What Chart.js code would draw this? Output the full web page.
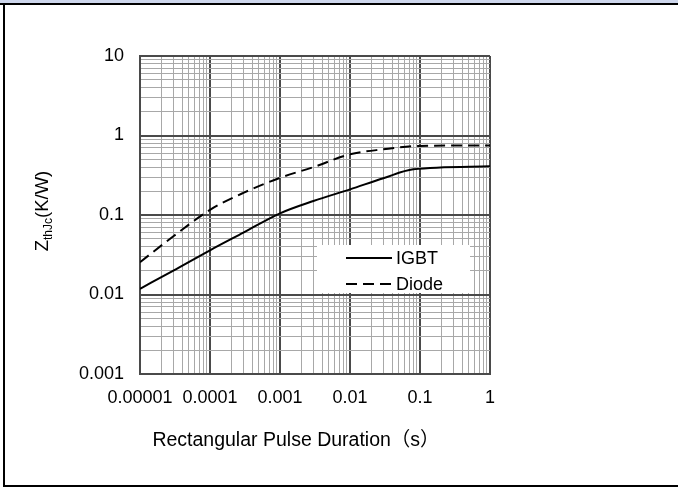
<!DOCTYPE html>
<html>
<head>
<meta charset="utf-8">
<script src="https://cdn.jsdelivr.net/npm/chart.js@4/dist/chart.umd.min.js"></script>
<style>
    html, body { margin: 0; padding: 0; background: #fff; }
    #wrap { position: relative; width: 678px; height: 488px; overflow: hidden; }
    #plot { position: absolute; left: 0; top: 0; }
    .edge { position: absolute; background: #000; }
</style>
</head>
<body>
<div id="wrap">
    <canvas id="plot" width="678" height="488"></canvas>
    <div class="edge" style="left:0;top:0;width:678px;height:3px;background:#cdd6ec"></div>
    <div class="edge" style="left:0;top:3px;width:678px;height:2px"></div>
    <div class="edge" style="left:3px;top:3px;width:2px;height:484px"></div>
    <div class="edge" style="left:3px;top:485px;width:675px;height:2px"></div>
</div>
<script>
const FONT = '"Liberation Sans", Arial, "Noto Sans CJK SC", sans-serif';

// axis decades and their labels
const xDecades = [1e-5, 1e-4, 1e-3, 1e-2, 1e-1, 1];
const xDecadeLabels = ['0.00001', '0.0001', '0.001', '0.01', '0.1', '1'];
const yDecades = [1e-3, 1e-2, 1e-1, 1, 10];
const yDecadeLabels = ['0.001', '0.01', '0.1', '1', '10'];

// transient thermal impedance curves
const igbtTime = [1e-5, 3e-5, 1e-4, 3e-4, 1e-3, 3e-3, 1e-2, 3e-2, 0.08, 1];
const igbtZth = [0.0118, 0.020, 0.036, 0.060, 0.105, 0.15, 0.21, 0.29, 0.376, 0.41];
const diodeTime = [1e-5, 3e-5, 1e-4, 3e-4, 1e-3, 3e-3, 1e-2, 3e-2, 0.1, 1];
const diodeZth = [0.0255, 0.054, 0.116, 0.19, 0.294, 0.40, 0.58, 0.67, 0.74, 0.75];

const toPoints = (xs, ys) => xs.map((x, i) => ({ x, y: ys[i] }));

// 1..9 x 10^n for every decade between the first and last entry
function logTicks(decades) {
    const out = [];
    decades.forEach((d, i) => {
        const last = i === decades.length - 1;
        for (let m = 1; m <= (last ? 1 : 9); m++) {
            out.push({ value: m * d });
        }
    });
    return out;
}

const isDecade = (v) => Math.abs(Math.log10(v) - Math.round(Math.log10(v))) < 1e-6;

const labelFor = (decades, labels) => (value) => {
    const i = decades.findIndex((d) => Math.abs(Math.log10(d) - Math.log10(value)) < 1e-6);
    return i >= 0 ? labels[i] : '';
};

const gridOpts = {
    drawTicks: false,
    color: (ctx) => (ctx.tick && isDecade(ctx.tick.value) ? '#4a4a4a' : '#a8a8a8'),
    lineWidth: (ctx) => (ctx.tick && isDecade(ctx.tick.value) ? 2 : 1),
};

const overlay = {
    id: 'overlay',
    afterDraw(chart) {
        const { ctx, chartArea } = chart;
        ctx.save();

        // legend box inside the plot
        ctx.fillStyle = '#fff';
        ctx.fillRect(317, 245, 153, 48);
        const rows = [
            { ds: chart.data.datasets[0], y: 258 },
            { ds: chart.data.datasets[1], y: 284 },
        ];
        rows.forEach(({ ds, y }) => {
            ctx.strokeStyle = '#000';
            ctx.lineWidth = 2;
            ctx.setLineDash(ds.borderDash || []);
            ctx.beginPath();
            ctx.moveTo(346, y);
            ctx.lineTo(392, y);
            ctx.stroke();
            ctx.setLineDash([]);
            ctx.fillStyle = '#000';
            ctx.font = '18px ' + FONT;
            ctx.textAlign = 'left';
            ctx.textBaseline = 'middle';
            ctx.fillText(ds.label, 396, y + 1);
        });

        // x axis title
        ctx.font = '19.5px ' + FONT;
        ctx.textAlign = 'center';
        ctx.textBaseline = 'alphabetic';
        ctx.fillText('Rectangular Pulse Duration（s）', 296, 446);

        // y axis title with subscript
        ctx.translate(48, (chartArea.top + chartArea.bottom) / 2 - 4);
        ctx.rotate(-Math.PI / 2);
        const big = '18.5px ' + FONT;
        const small = '12px ' + FONT;
        ctx.font = big;
        const wZ = ctx.measureText('Z').width;
        const wK = ctx.measureText('(K/W)').width;
        ctx.font = small;
        const wSub = ctx.measureText('thJc').width;
        let x = -(wZ + wSub + wK) / 2;
        ctx.textAlign = 'left';
        ctx.font = big;
        ctx.fillText('Z', x, 0);
        x += wZ;
        ctx.font = small;
        ctx.fillText('thJc', x, 4);
        x += wSub;
        ctx.font = big;
        ctx.fillText('(K/W)', x, 0);

        ctx.restore();
    },
};

new Chart(document.getElementById('plot'), {
    type: 'line',
    data: {
        datasets: [
            {
                label: 'IGBT',
                data: toPoints(igbtTime, igbtZth),
                borderColor: '#000',
                borderWidth: 2,
                pointRadius: 0,
                cubicInterpolationMode: 'monotone',
            },
            {
                label: 'Diode',
                data: toPoints(diodeTime, diodeZth),
                borderColor: '#000',
                borderWidth: 2,
                borderDash: [11, 6],
                pointRadius: 0,
                cubicInterpolationMode: 'monotone',
            },
        ],
    },
    options: {
        responsive: false,
        devicePixelRatio: 1,
        animation: false,
        layout: { padding: { left: 0, top: 56, right: 188, bottom: 0 } },
        plugins: {
            legend: { display: false },
            tooltip: { enabled: false },
        },
        scales: {
            x: {
                type: 'logarithmic',
                min: 1e-5,
                max: 1,
                afterBuildTicks: (scale) => { scale.ticks = logTicks(xDecades); },
                afterFit: (scale) => { scale.height = 114; },
                grid: gridOpts,
                border: { color: '#4a4a4a', width: 2 },
                ticks: {
                    autoSkip: false,
                    maxRotation: 0,
                    padding: 13,
                    color: '#000',
                    font: { family: FONT, size: 18 },
                    callback: labelFor(xDecades, xDecadeLabels),
                },
            },
            y: {
                type: 'logarithmic',
                min: 1e-3,
                max: 10,
                afterBuildTicks: (scale) => { scale.ticks = logTicks(yDecades); },
                afterFit: (scale) => { scale.width = 140; },
                grid: gridOpts,
                border: { color: '#4a4a4a', width: 2 },
                ticks: {
                    autoSkip: false,
                    padding: 16,
                    color: '#000',
                    font: { family: FONT, size: 18 },
                    callback: labelFor(yDecades, yDecadeLabels),
                },
            },
        },
    },
    plugins: [overlay],
});
</script>
</body>
</html>
